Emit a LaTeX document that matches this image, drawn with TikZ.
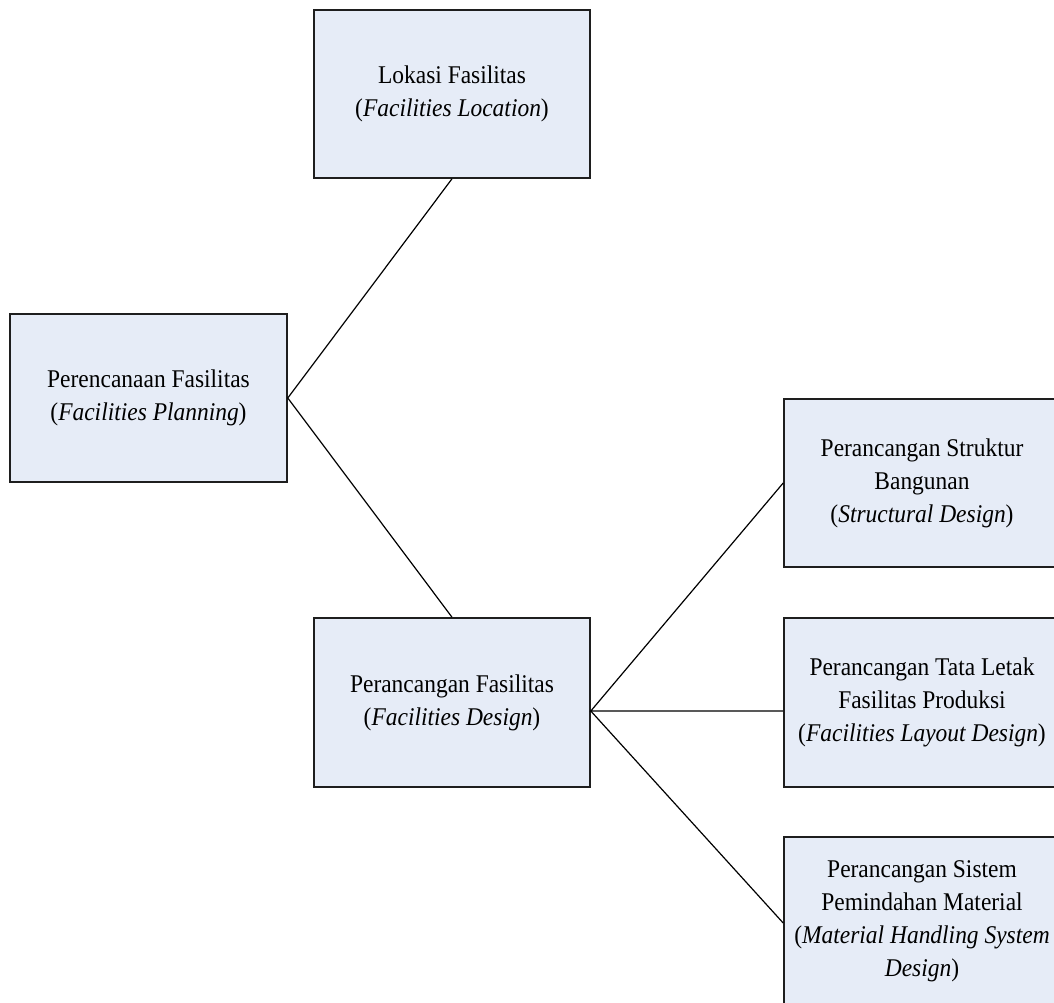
\documentclass[tikz,border=0pt]{standalone}
\usepackage{fontspec}
\setmainfont{Liberation Serif}[FakeStretch=0.92]
\definecolor{boxfill}{RGB}{230,236,247}
\definecolor{boxline}{RGB}{30,30,30}
\begin{document}
\begin{tikzpicture}[x=1pt,y=-1pt,
  box/.style={draw=boxline, line width=1.6pt, fill=boxfill, align=center,
    inner sep=0pt, font=\fontsize{25.5}{33}\selectfont},
  link/.style={draw=black, line width=1.2pt}]
\useasboundingbox (0,0) rectangle (1054,1003);
\clip (0,0) rectangle (1054,1003);

% boxes
\node[box, minimum width=276pt, minimum height=168pt] (loc) at (452,94)
  {Lokasi Fasilitas\\(\textit{Facilities Location})};
\node[box, minimum width=277pt, minimum height=168pt] (plan) at (148.5,398)
  {Perencanaan Fasilitas\\(\textit{Facilities Planning})};
\node[box, minimum width=276pt, minimum height=169pt] (design) at (452,702.5)
  {Perancangan Fasilitas\\(\textit{Facilities Design})};
\node[box, minimum width=276pt, minimum height=168pt] (struct) at (922,483)
  {Perancangan Struktur\\Bangunan\\(\textit{Structural Design})};
\node[box, minimum width=276pt, minimum height=169pt] (layout) at (922,702.5)
  {Perancangan Tata Letak\\Fasilitas Produksi\\(\textit{Facilities Layout Design})};
\node[box, minimum width=276pt, minimum height=168pt] (mhs) at (922,921)
  {Perancangan Sistem\\Pemindahan Material\\(\textit{Material Handling System}\\\textit{Design})};

% connectors
\draw[link] (loc.south) -- (plan.east) -- (design.north);
\draw[link] (struct.west) -- ([yshift=-8.5pt]design.east) -- ([yshift=-8.5pt]layout.west);
\draw[link] ([yshift=-8.5pt]design.east) -- ([yshift=-2pt]mhs.west);
\end{tikzpicture}
\end{document}
